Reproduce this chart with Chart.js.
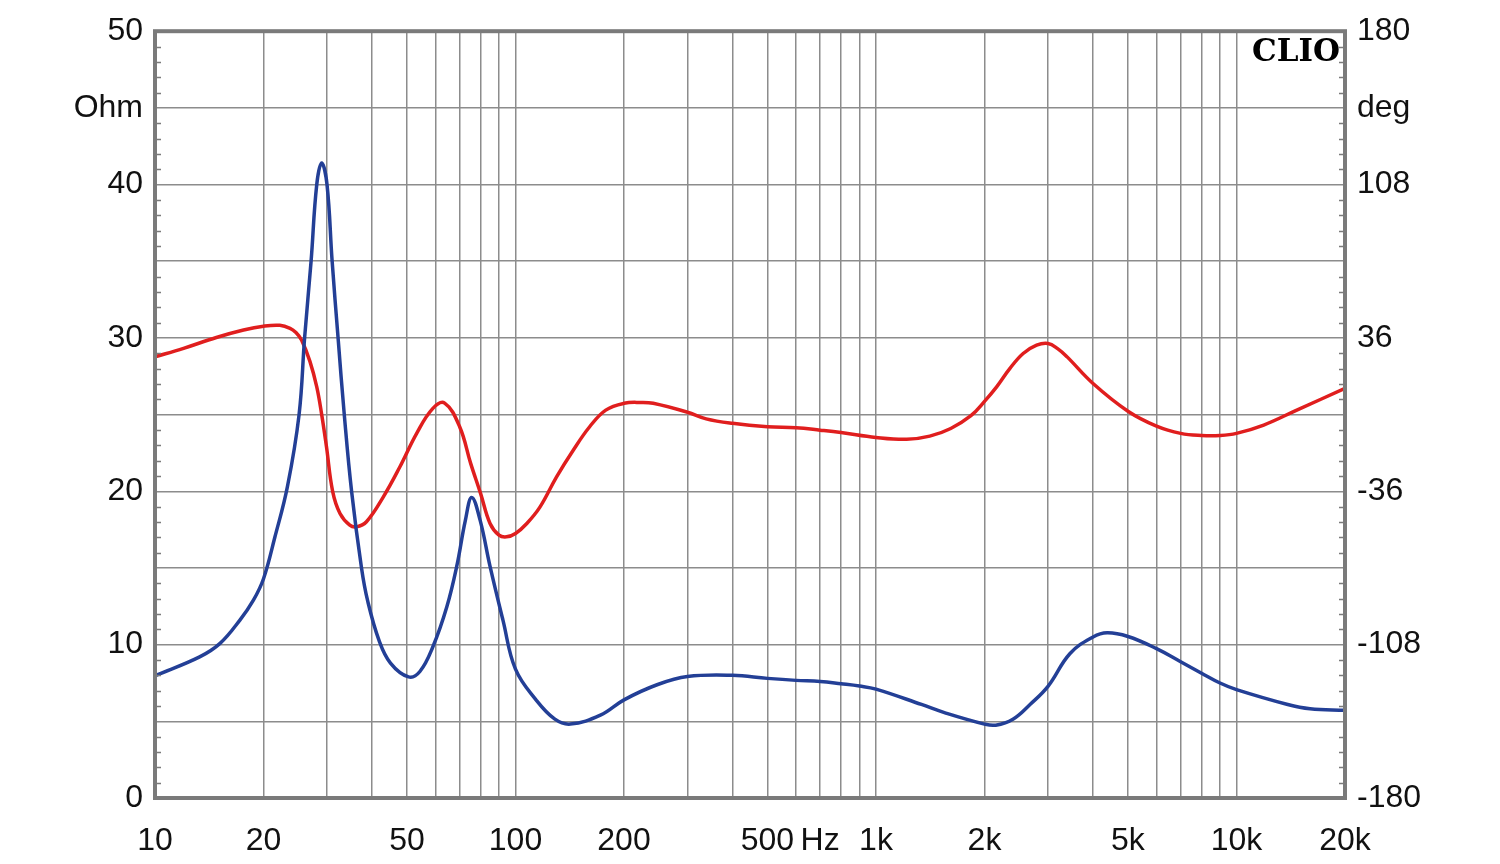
<!DOCTYPE html>
<html>
<head>
<meta charset="utf-8">
<script src="https://cdn.jsdelivr.net/npm/chart.js@4.4.1/dist/chart.umd.min.js"></script>
<style>
  html, body { margin: 0; padding: 0; background: #fff; }
  #wrap { width: 1500px; height: 864px; }
</style>
</head>
<body>
<div id="wrap"><canvas id="clioChart"></canvas></div>
<script>
// impedance (Ohm) - blue
const impFreq = [10, 13.3, 15.15, 17.2, 18.75, 20, 21.5, 23.3, 25.1, 26, 27.1, 28.1, 29, 30, 31, 32.2, 33.5, 35.1, 37.4, 38.9, 41.8, 45, 50.5, 54.3, 59, 64.5, 68.7, 72.6, 75.6, 79.8, 85, 92.3, 100, 114, 128.6, 142, 172, 200, 248, 300, 400, 500, 600, 700, 800, 900, 1000, 1337, 1548, 2000, 2148, 2398, 2675, 3000, 3454, 4000, 4379, 5000, 6000, 7000, 8000, 9000, 10000, 13870, 16000, 20000];
const impOhm = [7.97, 9.2, 10.08, 11.6, 12.9, 14.3, 17.0, 20.3, 25, 30, 35, 40, 41.4, 40, 35, 30, 25, 20, 15, 12.85, 10.3, 8.8, 7.9, 8.25, 9.86, 12.47, 15.1, 18.1, 19.6, 18.1, 15.1, 11.6, 8.4, 6.4, 5.14, 4.82, 5.4, 6.4, 7.4, 7.92, 8.0, 7.8, 7.67, 7.6, 7.45, 7.3, 7.1, 6.1, 5.57, 4.82, 4.75, 5.14, 6.1, 7.28, 9.42, 10.5, 10.77, 10.53, 9.74, 8.89, 8.14, 7.5, 7.07, 6.1, 5.82, 5.72];

// phase (deg) - red
const phaseFreq = [10, 12, 14.8, 17.6, 20, 22.2, 23.7, 24.6, 25.5, 26.9, 28.1, 29, 29.9, 31.1, 32.6, 34.7, 36.2, 38.6, 43, 47.8, 53.2, 59, 63.6, 70, 75.1, 80, 85, 90, 94.4, 100, 107.5, 117, 130, 144.6, 160.6, 178, 200, 223, 241, 300, 338, 400, 500, 600, 700, 800, 1000, 1216, 1410, 1612, 1834, 2000, 2161, 2353, 2560, 2790, 3000, 3190, 3390, 4000, 5000, 6000, 7000, 8000, 9000, 10000, 11900, 14700, 20000];
const phaseDeg = [27.1, 31.1, 36.2, 39.7, 41.5, 41.9, 40.5, 38.5, 35, 25, 13, 0, -15.1, -36, -46.4, -51.9, -52.7, -50.3, -38.6, -24.5, -8.8, 2.9, 5.4, -5.7, -22.9, -37, -51.1, -56.6, -57.4, -55.8, -51.1, -43.3, -29.2, -16.7, -5.7, 2.1, 5.3, 5.7, 5.3, 1.1, -2.0, -4.1, -5.7, -6.2, -7.3, -8.4, -10.7, -11.6, -10.1, -6.5, -0.5, 6.2, 13.0, 21.7, 28.7, 32.6, 33.4, 31.0, 27.1, 14.6, 1.6, -5.4, -8.8, -9.8, -9.8, -8.8, -4.9, 2.1, 12.3];

// axes
const xGridValues = [10, 20, 30, 40, 50, 60, 70, 80, 90, 100, 200, 300, 400, 500, 600, 700, 800, 900, 1000, 2000, 3000, 4000, 5000, 6000, 7000, 8000, 9000, 10000, 20000];
const xLabelValues = [10, 20, 50, 100, 200, 500, 700, 1000, 2000, 5000, 10000, 20000];
const xLabelTexts = ['10', '20', '50', '100', '200', '500', 'Hz', '1k', '2k', '5k', '10k', '20k'];
const leftLabelValues = [0, 10, 20, 30, 40, 45, 50];
const leftLabelTexts = ['0', '10', '20', '30', '40', 'Ohm', '50'];
const rightLabelValues = [-180, -108, -36, 36, 108, 144, 180];
const rightLabelTexts = ['-180', '-108', '-36', '36', '108', 'deg', '180'];

const toPoints = (xs, ys) => xs.map((x, i) => ({ x: x, y: ys[i] }));
const labelFor = (vals, texts, v) => {
    const i = vals.findIndex(a => Math.abs(a - v) < 1e-6);
    return i < 0 ? '' : texts[i];
};

const frameColor = '#7a7a7a';
const gridColor = '#8c8c8c';
const tickFont = { family: 'Liberation Sans, Arial, sans-serif', size: 32 };

const framePlugin = {
    id: 'frame',
    afterDatasetsDraw(chart) {
        const { ctx, chartArea: a, scales } = chart;
        ctx.save();
        // short inside ticks every 1 Ohm on both sides
        ctx.strokeStyle = frameColor;
        ctx.lineWidth = 1.5;
        for (let v = 1; v < 50; v++) {
            if (v % 5 === 0) continue;
            const y = Math.round(scales.y.getPixelForValue(v)) + 0.5;
            ctx.beginPath();
            ctx.moveTo(a.left, y); ctx.lineTo(a.left + 6, y);
            ctx.moveTo(a.right, y); ctx.lineTo(a.right - 6, y);
            ctx.stroke();
        }
        ctx.lineWidth = 4;
        ctx.strokeRect(a.left, a.top, a.right - a.left, a.bottom - a.top);
        ctx.fillStyle = '#000';
        ctx.font = 'bold 31px "DejaVu Serif", "Liberation Serif", serif';
        ctx.textAlign = 'right';
        ctx.textBaseline = 'alphabetic';
        ctx.fillText('CLIO', a.right - 5, a.top + 30);
        ctx.restore();
    }
};

const ctx1 = document.getElementById('clioChart').getContext('2d');
const clioChart = new Chart(ctx1, {
    type: 'line',
    data: {
        datasets: [{
            label: 'Impedance',
            data: toPoints(impFreq, impOhm),
            borderColor: '#233f96',
            borderWidth: 3.5,
            pointRadius: 0,
            tension: 0.4,
            yAxisID: 'y'
        }, {
            label: 'Phase',
            data: toPoints(phaseFreq, phaseDeg),
            borderColor: '#e01e1e',
            borderWidth: 3.5,
            pointRadius: 0,
            tension: 0.4,
            yAxisID: 'y2'
        }]
    },
    options: {
        responsive: true,
        maintainAspectRatio: false,
        animation: false,
        layout: { padding: { top: 31, left: 0, right: 0, bottom: 0 } },
        plugins: {
            legend: { display: false },
            tooltip: { enabled: false }
        },
        scales: {
            x: {
                type: 'logarithmic',
                min: 10,
                max: 20000,
                afterBuildTicks: s => { s.ticks = xGridValues.map(v => ({ value: v })); },
                afterFit: s => { s.height = 66; },
                grid: { color: gridColor, lineWidth: 1.5, drawTicks: false },
                border: { display: false },
                ticks: {
                    autoSkip: false,
                    maxRotation: 0,
                    padding: 24,
                    color: '#111',
                    font: tickFont,
                    callback: v => labelFor(xLabelValues, xLabelTexts, v)
                }
            },
            y: {
                position: 'left',
                min: 0,
                max: 50,
                afterFit: s => { s.width = 155; },
                grid: { color: gridColor, lineWidth: 1.5, drawTicks: false },
                border: { display: false },
                ticks: {
                    stepSize: 5,
                    padding: 12,
                    color: '#111',
                    font: tickFont,
                    callback: v => labelFor(leftLabelValues, leftLabelTexts, v)
                }
            },
            y2: {
                position: 'right',
                min: -180,
                max: 180,
                afterFit: s => { s.width = 155; },
                grid: { drawOnChartArea: false, drawTicks: false },
                border: { display: false },
                ticks: {
                    stepSize: 36,
                    padding: 12,
                    color: '#111',
                    font: tickFont,
                    callback: v => labelFor(rightLabelValues, rightLabelTexts, v)
                }
            }
        }
    },
    plugins: [framePlugin]
});
</script>
</body>
</html>
